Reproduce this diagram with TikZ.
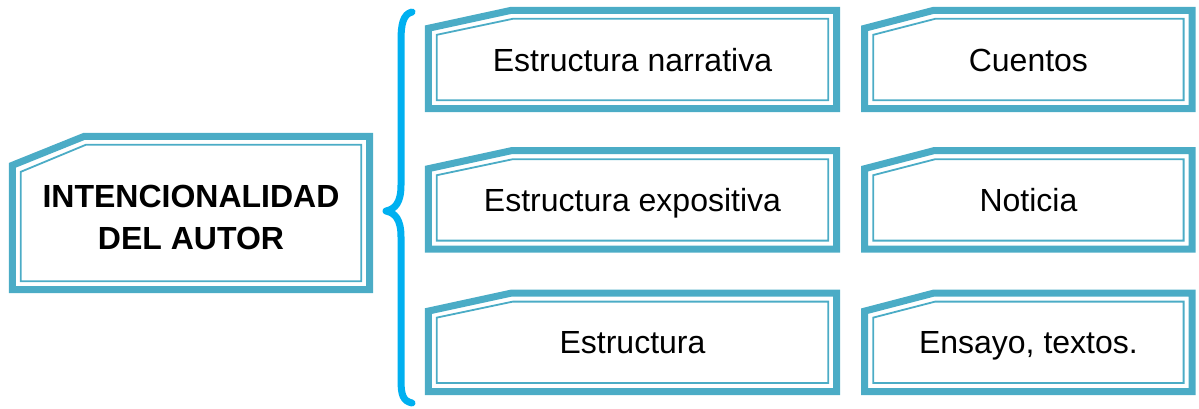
\documentclass[tikz,border=0pt]{standalone}
\usepackage{fontspec}
\setmainfont{Liberation Sans}
\usepackage{tikz}
\usetikzlibrary{positioning}

\definecolor{azulmarco}{HTML}{4BACC6}
\definecolor{azulllave}{HTML}{00B0F0}

\tikzset{
  caja/.style={inner sep=0pt, minimum height=98pt, text height=23pt, text depth=0pt,
    font=\fontsize{32}{42}\selectfont},
  borde/.style={draw=azulmarco, line width=7pt, line join=miter},
  filete/.style={draw=azulmarco, line width=1.8pt},
  llave/.style={draw=azulllave, line width=7pt, line cap=round, line join=round}
}

% marco con esquina cortada: nodo, avance del corte, caida del corte
\newcommand{\dibujamarco}[3]{%
  \draw[borde] ([yshift=-#3pt]#1.north west) -- ([xshift=#2pt]#1.north west)
    -- (#1.north east) -- (#1.south east) -- (#1.south west) -- cycle;
  \draw[filete] ([shift={(8.5pt,-#3pt-6.5pt)}]#1.north west)
    -- ([shift={(#2pt+1.5pt,-8.5pt)}]#1.north west)
    -- ([shift={(-8.5pt,-8.5pt)}]#1.north east)
    -- ([shift={(-8.5pt,8.5pt)}]#1.south east)
    -- ([shift={(8.5pt,8.5pt)}]#1.south west) -- cycle;
}

\begin{document}
\begin{tikzpicture}[x=1pt,y=1pt]
  \useasboundingbox (0,0) rectangle (1199,-408);

  \node[inner sep=0pt, minimum width=357pt, minimum height=153pt, align=center,
    text height=73pt, text depth=0pt,
    font=\fontsize{32}{42}\selectfont\bfseries] (autor) at (191,-213)
    {INTENCIONALIDAD\\DEL AUTOR};

  \node[caja, minimum width=408pt] (narrativa) at (632.5,-59.5) {Estructura narrativa};
  \node[caja, minimum width=408pt, below=42pt of narrativa] (expositiva) {Estructura expositiva};
  \node[caja, minimum width=408pt, below=44pt of expositiva] (estructura) {Estructura};

  \node[caja, minimum width=327pt, right=28pt of narrativa] (cuentos) {Cuentos};
  \node[caja, minimum width=327pt, right=28pt of expositiva] (noticia) {Noticia};
  \node[caja, minimum width=327pt, right=28pt of estructura] (ensayo) {Ensayo, textos.};

  \dibujamarco{autor}{72}{29}
  \foreach \n in {narrativa,expositiva,estructura} {\dibujamarco{\n}{83}{18}}
  \foreach \n in {cuentos,noticia,ensayo} {\dibujamarco{\n}{69}{18}}

  % llave
  \coordinate (punta) at (386,-211);
  \draw[llave] (412,-12) .. controls (403,-14) and (401,-25) .. (401,-40)
    -- (401,-185) .. controls (401,-203) and (395,-209) .. (punta)
    .. controls (395,-213) and (401,-219) .. (401,-237)
    -- (401,-380) .. controls (401,-395) and (403,-401) .. (412,-403);
\end{tikzpicture}
\end{document}
